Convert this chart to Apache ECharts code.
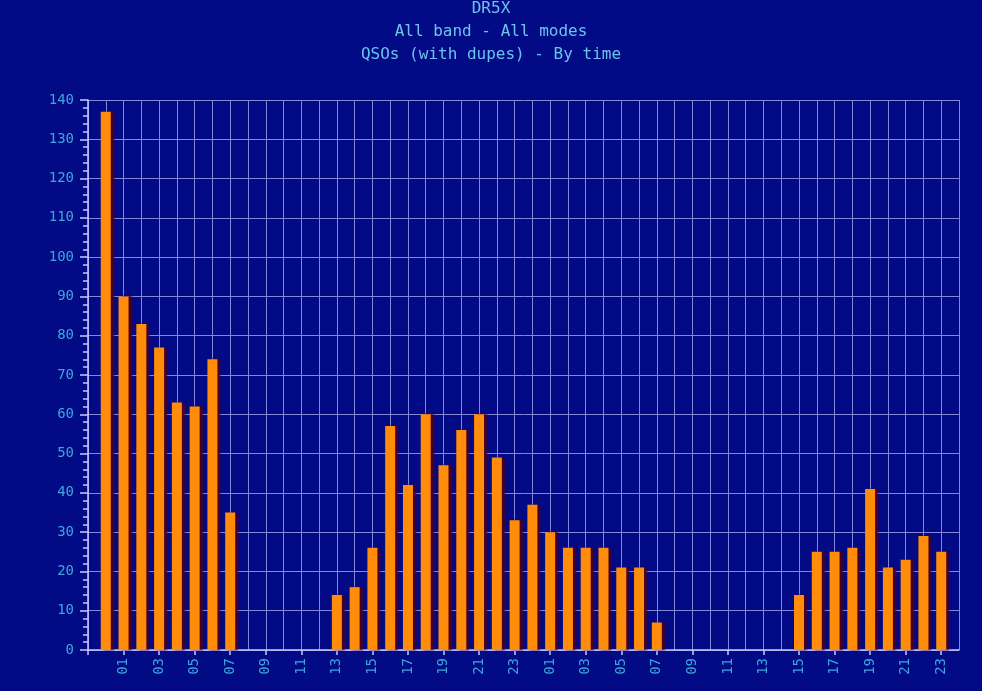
<!DOCTYPE html>
<html>
<head>
<meta charset="utf-8">
<script src="https://cdn.jsdelivr.net/npm/echarts@6/dist/echarts.min.js"></script>
<style>
  html, body { margin: 0; padding: 0; background: #020a86; }
  #chart { width: 982px; height: 691px; }
</style>
</head>
<body>
<div id="chart"></div>
<script>
// two days of hourly QSO counts, 00..23 then 00..23
const HOURS = [
  '00', '01', '02', '03', '04', '05', '06', '07', '08', '09', '10', '11',
  '12', '13', '14', '15', '16', '17', '18', '19', '20', '21', '22', '23',
  '00', '01', '02', '03', '04', '05', '06', '07', '08', '09', '10', '11',
  '12', '13', '14', '15', '16', '17', '18', '19', '20', '21', '22', '23',
];
const QSOS = [
  137, 90, 83, 77, 63, 62, 74, 35, 0, 0, 0, 0,
  0, 14, 16, 26, 57, 42, 60, 47, 56, 60, 49, 33,
  37, 30, 26, 26, 26, 21, 21, 7, 0, 0, 0, 0,
  0, 0, 0, 14, 25, 25, 26, 41, 21, 23, 29, 25,
];
const TITLE_LINES = ['DR5X', 'All band - All modes', 'QSOs (with dupes) - By time'];

const FONT = 'DejaVu Sans Mono';
const labelColor = '#3ea6dc';
const titleColor = '#6cc2ee';
const gridColor = '#8486da';
const axisColor = '#c8c8ff';

// bar i sits at position i + 1 on a 0..49 value axis; empty hours draw nothing
const barData = QSOS.map((v, i) => [i + 1, v > 0 ? v : '-']);
const labelPositions = HOURS.map((h, i) => i + 1).filter((p) => p % 2 === 0);

const chart = echarts.init(document.getElementById('chart'));

const baseX = { type: 'value', min: 0, max: 49, interval: 1 };

chart.setOption({
  backgroundColor: '#020a86',
  animation: false,
  title: TITLE_LINES.map((t, i) => ({
    text: t,
    left: 'center',
    top: -4 + i * 23,
    textStyle: { color: titleColor, fontFamily: FONT, fontSize: 16, fontWeight: 'normal' },
  })),
  grid: { left: 88, right: 23, top: 100, bottom: 41 },
  xAxis: [
    {
      // hourly grid lines
      ...baseX,
      position: 'bottom',
      axisLine: { show: false },
      axisTick: { show: false },
      axisLabel: { show: false },
      splitLine: { show: true, lineStyle: { color: gridColor, width: 1 } },
    },
    {
      // odd-hour ticks and labels
      ...baseX,
      position: 'bottom',
      axisLine: { onZero: false, lineStyle: { color: axisColor, width: 1.5 } },
      axisTick: {
        show: true,
        customValues: [0].concat(labelPositions),
        length: 5,
        lineStyle: { color: axisColor, width: 1.5 },
      },
      axisLabel: {
        customValues: labelPositions,
        rotate: 90,
        color: labelColor,
        fontFamily: FONT,
        fontSize: 14,
        margin: 8,
        formatter: (v) => HOURS[v - 1] || '',
      },
      splitLine: { show: false },
    },
  ],
  yAxis: {
    type: 'value',
    min: 0,
    max: 140,
    interval: 10,
    axisLine: { show: true, lineStyle: { color: axisColor, width: 1.5 } },
    axisTick: { show: true, length: 8, lineStyle: { color: axisColor, width: 1.5 } },
    minorTick: { show: true, splitNumber: 5, length: 5, lineStyle: { color: axisColor, width: 1.5 } },
    axisLabel: { color: labelColor, fontFamily: FONT, fontSize: 14, margin: 14 },
    splitLine: { show: true, lineStyle: { color: gridColor, width: 1 } },
  },
  series: [
    {
      type: 'bar',
      xAxisIndex: 0,
      data: barData,
      barWidth: 10,
      itemStyle: {
        color: '#ff8c0a',
        shadowColor: 'rgba(75, 0, 30, 1)',
        shadowBlur: 2,
        shadowOffsetX: 3,
      },
    },
  ],
});
</script>
</body>
</html>
